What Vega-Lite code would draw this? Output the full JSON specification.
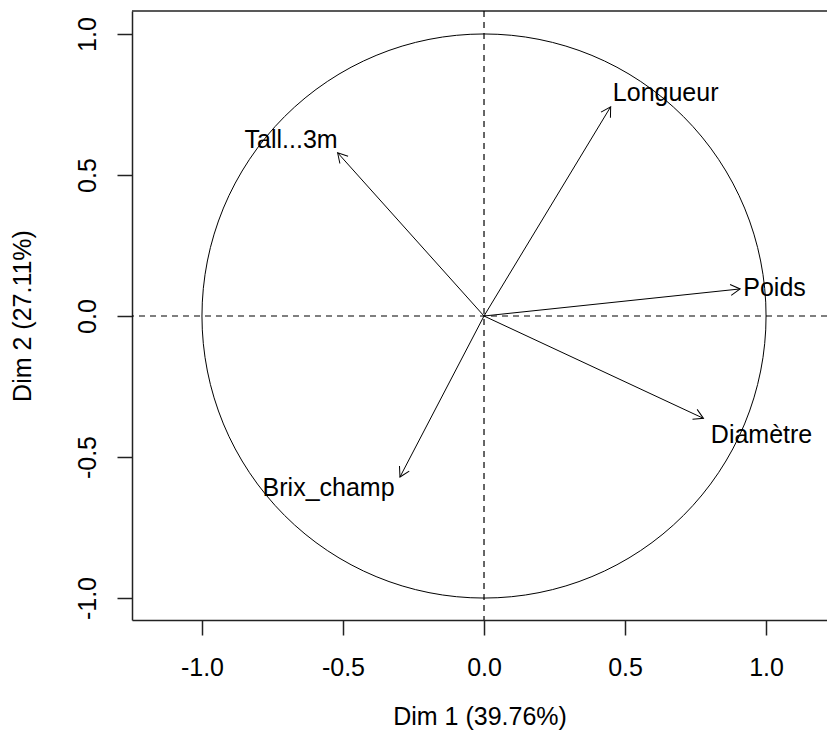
{
  "$schema": "https://vega.github.io/schema/vega-lite/v6.json",
  "autosize": {"type": "none"},
  "padding": {"left": 132, "top": 11, "right": 0, "bottom": 124},
  "width": 695,
  "height": 609,
  "background": "white",
  "config": {
    "font": "Liberation Sans",
    "view": {"stroke": null},
    "axis": {
      "labelFont": "Liberation Sans",
      "titleFont": "Liberation Sans",
      "labelFontSize": 25,
      "titleFontSize": 25,
      "titleFontWeight": "normal",
      "labelColor": "#000000",
      "titleColor": "#000000",
      "tickColor": "#222222",
      "domainColor": "#222222",
      "domainWidth": 1.5,
      "tickWidth": 1.5,
      "grid": false
    }
  },
  "datasets": {
    "vars": [
      {"var": "Longueur", "x": 0.449, "y": 0.742, "lx": 0.644, "ly": 0.791},
      {"var": "Tall...3m", "x": -0.519, "y": 0.579, "lx": -0.684, "ly": 0.624},
      {"var": "Poids", "x": 0.908, "y": 0.096, "lx": 1.03, "ly": 0.099},
      {"var": "Diamètre", "x": 0.778, "y": -0.363, "lx": 0.984, "ly": -0.422},
      {"var": "Brix_champ", "x": -0.298, "y": -0.571, "lx": -0.551, "ly": -0.61}
    ],
    "origin": [{"x": 0, "y": 0, "top": 1.0816}]
  },
  "layer": [
    {
      "data": {"name": "origin"},
      "mark": {"type": "point", "shape": "circle", "filled": false, "size": 318200, "stroke": "#000000", "strokeWidth": 1, "opacity": 1},
      "encoding": {
        "x": {"field": "x", "type": "quantitative", "scale": {"domain": [-1.248, 1.216], "nice": false, "zero": false},
          "axis": {"orient": "bottom", "values": [-1, -0.5, 0, 0.5, 1], "labelExpr": "replace(format(datum.value, '.1f'), '\u2212', '-')", "tickSize": 15, "labelPadding": 20, "title": "Dim 1 (39.76%)", "titlePadding": 24, "labelFlush": false}},
        "y": {"field": "y", "type": "quantitative", "scale": {"domain": [-1.078, 1.0816], "nice": false, "zero": false},
          "axis": {"orient": "left", "values": [-1, -0.5, 0, 0.5, 1], "labelExpr": "replace(format(datum.value, '.1f'), '\u2212', '-')", "tickSize": 15, "labelAngle": 270, "labelAlign": "center", "labelBaseline": "bottom", "labelPadding": 17, "title": "Dim 2 (27.11%)", "titlePadding": 40, "labelFlush": false}}
      }
    },
    {
      "data": {"name": "origin"},
      "mark": {"type": "rule", "stroke": "#222222", "strokeWidth": 1.5},
      "encoding": {
        "y": {"field": "top", "type": "quantitative"}
      }
    },
    {
      "data": {"name": "origin"},
      "mark": {"type": "rule", "stroke": "#000000", "strokeWidth": 1.2, "strokeDash": [6, 5]},
      "encoding": {
        "x": {"field": "x", "type": "quantitative"}
      }
    },
    {
      "data": {"name": "origin"},
      "mark": {"type": "rule", "stroke": "#000000", "strokeWidth": 1.2, "strokeDash": [6, 5]},
      "encoding": {
        "y": {"field": "y", "type": "quantitative"}
      }
    },
    {
      "data": {"name": "vars"},
      "mark": {"type": "rule", "stroke": "#000000", "strokeWidth": 1},
      "encoding": {
        "x": {"field": "x", "type": "quantitative"},
        "y": {"field": "y", "type": "quantitative"},
        "x2": {"datum": 0},
        "y2": {"datum": 0}
      }
    },
    {
      "data": {"name": "vars"},
      "transform": [{"calculate": "atan2(datum.x, datum.y) * 180 / PI", "as": "ang"}],
      "mark": {"type": "point", "shape": "M -0.5 0.866 L 0 0 L 0.5 0.866", "filled": false, "size": 484, "stroke": "#000000", "strokeWidth": 1, "opacity": 1},
      "encoding": {
        "x": {"field": "x", "type": "quantitative"},
        "y": {"field": "y", "type": "quantitative"},
        "angle": {"field": "ang", "type": "quantitative", "scale": null}
      }
    },
    {
      "data": {"name": "vars"},
      "mark": {"type": "text", "font": "Liberation Sans", "fontSize": 25, "align": "center", "baseline": "middle", "color": "#000000"},
      "encoding": {
        "x": {"field": "lx", "type": "quantitative"},
        "y": {"field": "ly", "type": "quantitative"},
        "text": {"field": "var", "type": "nominal"}
      }
    }
  ]
}
